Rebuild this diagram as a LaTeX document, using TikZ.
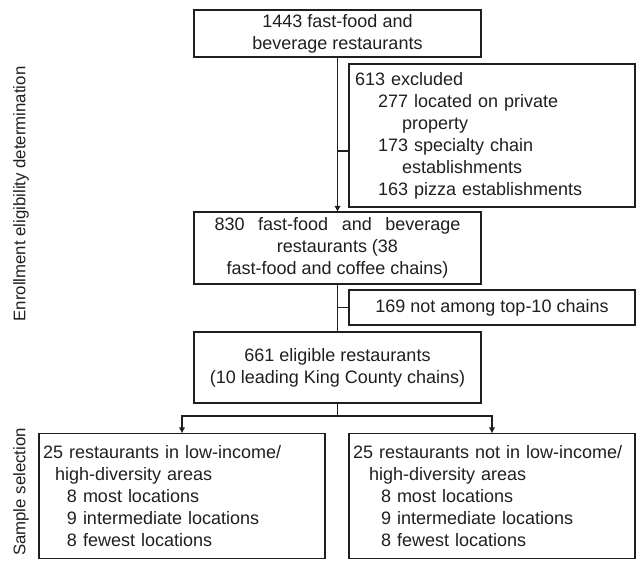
\documentclass[tikz,border=0pt]{standalone}
\usepackage{fontspec}
\setmainfont{Liberation Sans}
\usetikzlibrary{arrows.meta}
\definecolor{FlowInk}{gray}{0.12}
\tikzset{
    flow/diagram/.style={
        x=0.5pt, y=-0.5pt,
        font=\fontsize{9}{11}\selectfont,
        draw=FlowInk,
        text=FlowInk,
        line width=0.6pt,
        every node/.style={inner sep=0pt, outer sep=0pt}
    },
    flow/box/.style={
        draw=FlowInk, line width=0.6pt,
        align=center, minimum width=143.5pt
    },
    flow/list/.style={
        draw=FlowInk, line width=0.6pt,
        align=left, inner xsep=2pt, text width=139pt
    },
    flow/link/.style={draw=FlowInk, line width=0.6pt},
    flow/arrow/.style={
        draw=FlowInk, line width=0.6pt,
        -{Latex[length=3pt, width=3.2pt]}
    },
    flow/phase/.style={rotate=90, font=\fontsize{8.4}{10}\selectfont}
}

\begin{document}
\begin{tikzpicture}[flow/diagram]
    \useasboundingbox (0,0) rectangle (638,571);
    \node[flow/box, minimum height=23.5pt] (Total) at (337.5,33.5)
        {1443 fast-food and\\beverage restaurants};
    \node[flow/list, inner xsep=3pt, text width=137pt, minimum height=71.5pt] (Excluded) at (492,135.5)
        {613 excluded\\
         \hspace*{11.5pt}277 located on private\\
         \hspace*{23.5pt}property\\
         \hspace*{11.5pt}173 specialty chain\\
         \hspace*{23.5pt}establishments\\
         \hspace*{11.5pt}163 pizza establishments};
    \node[flow/box, minimum height=36pt] (Screened) at (337.5,248)
        {\makebox[123pt][s]{830 fast-food and beverage}\\
         restaurants (38\hspace*{11.5pt}\\
         fast-food and coffee chains)};
    \node[flow/box, minimum width=143pt, minimum height=17.5pt] (NotTop) at (492,307.5)
        {169 not among top-10 chains};
    \node[flow/box, minimum height=35.5pt] (Eligible) at (337.5,367.5)
        {661 eligible restaurants\\(10 leading King County chains)};
    \node[flow/list, minimum height=62.5pt] (LowIncome) at (182,496)
        {25 restaurants in low-income/\\
         \hspace*{6pt}high-diversity areas\\
         \hspace*{12pt}8 most locations\\
         \hspace*{12pt}9 intermediate locations\\
         \hspace*{12pt}8 fewest locations};
    \node[flow/list, minimum height=62.5pt] (Other) at (492,496)
        {25 restaurants not in low-income/\\
         \hspace*{8pt}high-diversity areas\\
         \hspace*{14pt}8 most locations\\
         \hspace*{14pt}9 intermediate locations\\
         \hspace*{14pt}8 fewest locations};
    \node[flow/phase] (EnrollPhase) at (21,194) {Enrollment eligibility determination};
    \node[flow/phase] (SamplePhase) at (21,492) {Sample selection};
    \draw[flow/arrow] (Total.south) -- (Screened.north);
    \coordinate (ExclusionJoin) at (337.5,151);
    \draw[flow/link] (ExclusionJoin) -- (ExclusionJoin -| Excluded.west);
    \draw[flow/link] (Screened.south) -- (Eligible.north);
    \draw[flow/link] (Screened.south |- NotTop.west) -- (NotTop.west);
    \coordinate (SplitJoin) at (337.5,416);
    \draw[flow/link] (Eligible.south) -- (SplitJoin);
    \draw[flow/arrow] (SplitJoin) -| (LowIncome.north);
    \draw[flow/arrow] (SplitJoin) -| (Other.north);
\end{tikzpicture}
\end{document}
